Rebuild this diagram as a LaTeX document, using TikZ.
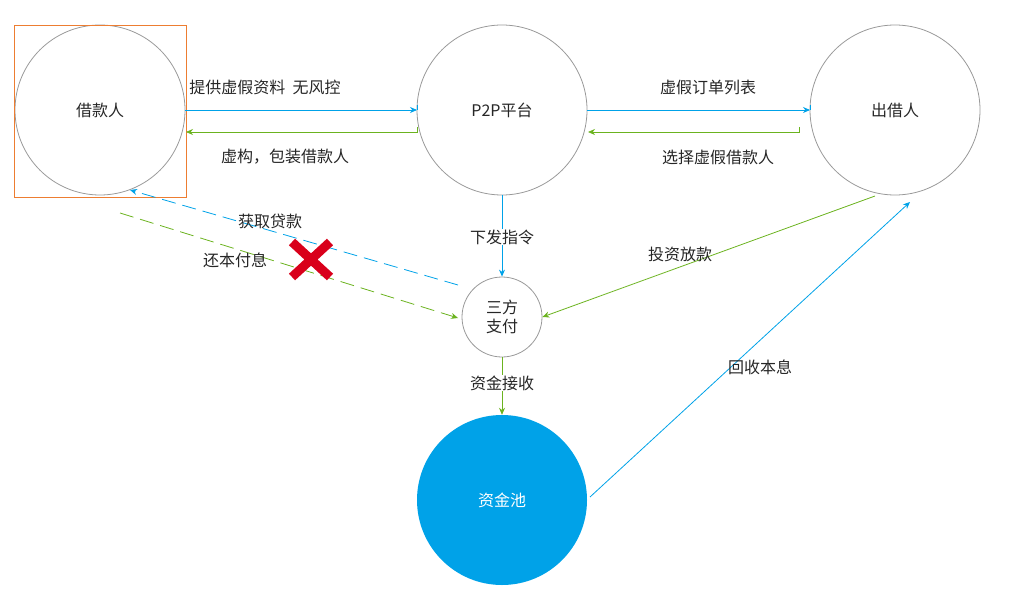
\documentclass[tikz,border=0pt]{standalone}
\usepackage{fontspec}
\setmainfont{Noto Sans CJK SC}
\usetikzlibrary{arrows.meta}
\definecolor{bl}{HTML}{00A2E8}
\definecolor{gr}{HTML}{6BB31F}
\definecolor{rd}{HTML}{D9001B}
\definecolor{og}{HTML}{ED7D31}
\begin{document}
\begin{tikzpicture}[x=1pt,y=-1pt,
  circ/.style={circle,draw=gray!80,thick,minimum size=170pt,inner sep=0pt},
  lbl/.style={font=\fontsize{16}{19}\selectfont,text=black!85},
  ab/.style={draw=bl,thick,-{Stealth[length=7pt,width=6pt]}},
  ag/.style={draw=gr,thick,-{Stealth[length=7pt,width=6pt]}}]
\useasboundingbox (0,0) rectangle (1011,599);
\node[circ,lbl] (jk) at (100,110) {借款人};
\draw[og,thick] (14,25) rectangle (186,197);
\node[circ,lbl] (p2p) at (502,110) {P2P平台};
\node[circ,lbl] (cj) at (895,110) {出借人};
\node[circle,draw=gray!80,thick,minimum size=80pt,inner sep=0pt,lbl,align=center] (sf) at (502,317) {三方\\支付};
\node[circle,fill=bl,minimum size=170pt,inner sep=0pt,lbl,text=white] (zj) at (502,500) {资金池};
\coordinate (a1) at (417,105);
\draw[ab] (jk.east) -- (417,110);
\draw[bl,thick] (417,105)--(417,110);
\draw[ag] (417,127)--(417,132)--(186,132);
\draw[ab] (p2p.east) -- (810,110);
\draw[bl,thick] (810,105)--(810,110);
\draw[ag] (799,127)--(799,132)--(588,132);
\node[lbl] at (265,87) {提供虚假资料\ \ 无风控};
\node[lbl] at (285,157) {虚构，包装借款人};
\node[lbl] at (708,87) {虚假订单列表};
\node[lbl] at (718,157) {选择虚假借款人};
\coordinate (b1) at (458,285); \coordinate (b2) at (130,190);
\draw[ab,dashed,dash pattern=on 14pt off 7pt] (b1) -- (b2);
\coordinate (g1) at (120,213); \coordinate (g2) at (458,318);
\draw[ag,dashed,dash pattern=on 14pt off 7pt] (g1) -- (g2);
\node[lbl] at (270,221) {获取贷款};
\node[lbl] at (235,260) {还本付息};
\draw[rd,line width=9pt] (292,242)--(330,277) (330,242)--(292,277);
\draw[ab] (p2p.south) -- (sf.north);
\node[lbl,fill=white,inner sep=1pt] at (502,237) {下发指令};
\coordinate (c1) at (875,196);
\draw[ag] (c1) -- (sf.east);
\node[lbl] at (680,254) {投资放款};
\draw[ag] (sf.south) -- (zj.north);
\node[lbl,fill=white,inner sep=1pt] at (502,383) {资金接收};
\coordinate (d1) at (910,202);
\draw[ab] (590,497) -- (d1);
\node[lbl] at (760,367) {回收本息};
\end{tikzpicture}
\end{document}
